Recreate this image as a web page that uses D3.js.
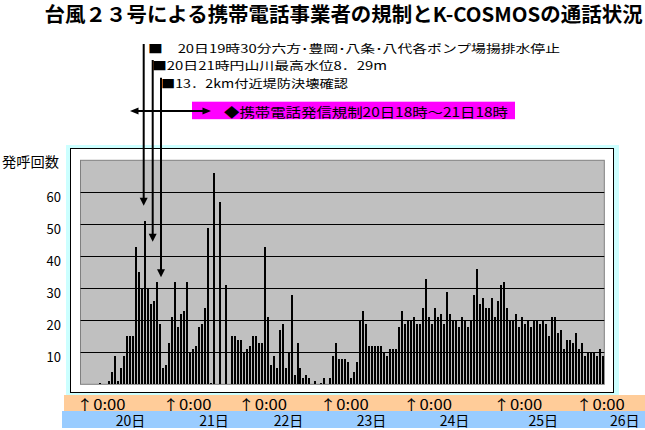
<!DOCTYPE html>
<html><head><meta charset="utf-8">
<script src="https://cdn.jsdelivr.net/npm/d3@7"></script>
<style>
body{margin:0;background:#fff}
svg{display:block}
text{font-family:"Noto Sans CJK JP","Noto Sans",sans-serif;fill:#000}
</style>
</head><body>
<svg id="chart" width="645" height="430"></svg>
<script>
// ---------------- DATA ----------------
const chartTitle = "台風２３号による携帯電話事業者の規制とK-COSMOSの通話状況";
const yAxisTitle = "発呼回数";
const yTicks = [10, 20, 30, 40, 50, 60];
const callCounts = [
  0,0,0,0,0,0,0.5,0,0,1, 4,9,1,5,9,15,15,15,43,35,
  30,51,30,25,26,32,19,5,6,13, 21,32,18,22,23,32,10,11,12,18,
  19,24,49,0.5,66,0,57,0,31,0, 15,15,14,14,10,11,12,15,15,13,
  13,43,21,6,9,5,17,19,5,10, 28,3,13,5,2,3,2,0,1,0,
  0.3,2,0,2,9,13,8,8,8,7, 2,4,7,20,23,19,12,12,12,12,
  12,10,9,11,11,11,18,23,19,20, 20,21,19,19,24,33,21,19,24,21,
  22,19,29,22,20,20,18,21,20,18, 20,28,36,25,27,24,24,27,21,26,
  31,32,24,20,20,22,18,21,19,20, 18,20,20,19,20,19,15,21,21,16,
  17,11,14,14,13,16,11,13,9,10, 10,10,9,11,9
];
const timeMarkLabels = ["↑0:00","↑0:00","↑0:00","↑0:00","↑0:00","↑0:00","↑0:00"];
const dayLabels = ["20日","21日","22日","23日","24日","25日","26日"];
const eventNotes = [
  "■　20日19時30分六方･豊岡･八条･八代各ポンプ場揚排水停止",
  "■20日21時円山川最高水位8．29m",
  "■13．2km付近堤防決壊確認"
];
const restrictionNote = "◆携帯電話発信規制20日18時～21日18時";

// ---------------- LAYOUT ----------------
const svg = d3.select("#chart");
const plot = {left: 80.5, right: 604.3, top: 160.3, bottom: 384.3};
const x = d3.scaleBand().domain(d3.range(callCounts.length))
  .range([plot.left, plot.right]).paddingInner(0.33).paddingOuter(0.165);
const y = d3.scaleLinear().domain([0, 70]).range([plot.bottom, plot.top]);

// overlay annotation layout (hand-placed in the original)
const markX = [80.5, 166.4, 242, 323.7, 406.9, 497.3, 579.8];
const dayX = [130.5, 214, 288.4, 371.5, 454.5, 543.3, 624.8];
const noteLayout = [
  {x: 148, base: 53, len: 412, lineX: 143.7, lineTop: 44, tip: 205.7},
  {x: 152, base: 69.5, len: 235, lineX: 152.7, lineTop: 60, tip: 241.7},
  {x: 161, base: 87.5, len: 187, lineX: 161, lineTop: 77.7, tip: 277.3}
];

// outer frames
svg.append("rect").attr("x", 66).attr("y", 145).attr("width", 553).attr("height", 250).attr("fill", "#CCFFFF");
svg.append("rect").attr("x", 70.5).attr("y", 148.5).attr("width", 543).attr("height", 244)
  .attr("fill", "#fff").attr("stroke", "#000").attr("stroke-width", 1);

// plot area
svg.append("rect").attr("x", plot.left).attr("y", plot.top)
  .attr("width", plot.right - plot.left).attr("height", plot.bottom - plot.top)
  .attr("fill", "#C0C0C0").attr("stroke", "#808080").attr("stroke-width", 1);

// gridlines
svg.append("g").selectAll("line").data(yTicks).join("line")
  .attr("x1", plot.left).attr("x2", plot.right)
  .attr("y1", d => Math.round(y(d)) + 0.5).attr("y2", d => Math.round(y(d)) + 0.5)
  .attr("stroke", "#000").attr("stroke-width", 1);

// bars
svg.append("g").attr("shape-rendering", "crispEdges").selectAll("rect").data(callCounts).join("rect")
  .attr("x", (d, i) => x(i)).attr("width", x.bandwidth())
  .attr("y", d => y(d)).attr("height", d => y(0) - y(d))
  .attr("fill", "#000");

// y tick labels
svg.append("g").selectAll("text").data(yTicks).join("text")
  .attr("x", 61).attr("y", d => y(d) + 4.5)
  .attr("text-anchor", "end").attr("dominant-baseline", "central")
  .attr("font-size", 13).text(d => d);

svg.append("text").attr("x", 2).attr("y", 166.5).attr("font-size", 14)
  .attr("textLength", 57).attr("lengthAdjust", "spacingAndGlyphs").text(yAxisTitle);

// title
svg.append("text").attr("x", 44.6).attr("y", 22).attr("font-size", 20).attr("font-weight", "bold")
  .attr("textLength", 598).attr("lengthAdjust", "spacingAndGlyphs").text(chartTitle);

// event notes and arrows
const notesG = svg.append("g");
noteLayout.forEach((n, i) => {
  notesG.append("text").attr("x", n.x).attr("y", n.base).attr("font-size", 11.5)
    .attr("textLength", n.len).attr("lengthAdjust", "spacingAndGlyphs").text(eventNotes[i]);
  notesG.append("line").attr("x1", n.lineX).attr("x2", n.lineX)
    .attr("y1", n.lineTop).attr("y2", n.tip - 6).attr("stroke", "#000").attr("stroke-width", 2);
  notesG.append("path")
    .attr("d", `M${n.lineX - 4},${n.tip - 8}L${n.lineX + 4},${n.tip - 8}L${n.lineX},${n.tip}Z`)
    .attr("fill", "#000");
});

// restriction box
svg.append("rect").attr("x", 192).attr("y", 101.7).attr("width", 323).attr("height", 17.5).attr("fill", "#FF00FF");
svg.append("text").attr("x", 224).attr("y", 116.5).attr("font-size", 13)
  .attr("textLength", 284).attr("lengthAdjust", "spacingAndGlyphs").text(restrictionNote);
// double arrow
svg.append("line").attr("x1", 134).attr("x2", 207).attr("y1", 111).attr("y2", 111)
  .attr("stroke", "#000").attr("stroke-width", 2);
svg.append("path").attr("d", "M130,111L138.5,107.5L138.5,114.5Z").attr("fill", "#000");
svg.append("path").attr("d", "M211,111L202.5,107.5L202.5,114.5Z").attr("fill", "#000");

// bottom time bands
svg.append("rect").attr("x", 64).attr("y", 395).attr("width", 581).attr("height", 16).attr("fill", "#FFCC99");
svg.append("rect").attr("x", 62).attr("y", 411).attr("width", 583).attr("height", 17).attr("fill", "#99CCFF");
svg.append("g").selectAll("text").data(timeMarkLabels).join("text")
  .attr("x", (d, i) => markX[i] - 4).attr("y", 409.5).attr("font-size", 14)
  .attr("textLength", 49).attr("lengthAdjust", "spacingAndGlyphs").text(d => d);
svg.append("g").selectAll("text").data(dayLabels).join("text")
  .attr("x", (d, i) => dayX[i]).attr("y", 426).attr("font-size", 14)
  .attr("text-anchor", "middle").text(d => d);
</script>
</body></html>
